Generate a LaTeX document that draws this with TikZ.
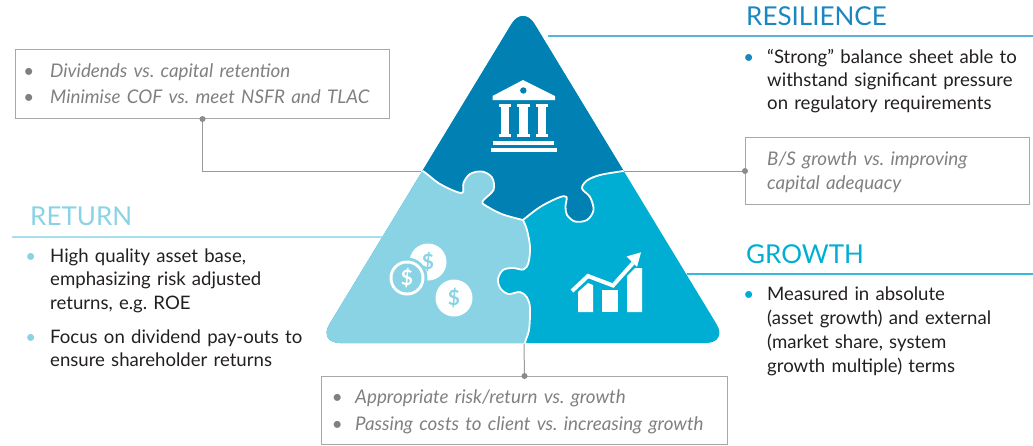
\documentclass[tikz,border=0pt]{standalone}
\usepackage{fontspec}
\setmainfont{Lato}
\frenchspacing
\definecolor{topc}{HTML}{0080B3}
\definecolor{leftc}{HTML}{89D3E5}
\definecolor{rightc}{HTML}{00AED4}
\definecolor{resc}{HTML}{1B87C0}
\definecolor{resline}{HTML}{5BB3DA}
\definecolor{retline}{HTML}{A9DEEC}
\definecolor{groline}{HTML}{36B9DD}
\definecolor{bodyc}{HTML}{231F20}
\definecolor{grayt}{HTML}{808080}
\definecolor{boxc}{HTML}{A8A8A8}
\definecolor{connc}{HTML}{9A9A9A}
\definecolor{dotc}{HTML}{8C8C8C}
\newcommand{\bul}[2]{\leavevmode\llap{\textcolor{#1}{•}\hspace{#2}}}
\begin{document}
\begin{tikzpicture}[x=1pt,y=-1pt,
  body/.style={anchor=base west, inner sep=0pt, text width=330pt, align=left, text=bodyc},
  note/.style={anchor=base west, inner sep=0pt, text width=420pt, align=left, text=grayt},
  titletext/.style={anchor=base west, inner sep=0pt, font=\fontsize{26}{30}\selectfont},
  greybox/.style={draw=boxc, line width=1pt, rectangle, inner sep=0pt, anchor=north west},
  conn/.style={draw=connc, line width=1pt},
  dotmark/.style={circle, fill=dotc, inner sep=0pt, minimum size=6pt},
  dollar/.style={inner sep=0pt, font=\bfseries\fontsize{21}{21}\selectfont},
]
\useasboundingbox (0,0) rectangle (1033,445);

% ---------- triangle puzzle ----------
\fill[rightc, rounded corners=22pt] (625.5,174) -- (728,343) -- (318,343) -- (523,5) -- cycle;
\begin{scope}
\clip[rounded corners=22pt] (625.5,174) -- (728,343) -- (318,343) -- (523,5) -- cycle;
\def\Lcurve{(400,163) (421,170) (440,184) (461.5,193) (463.5,183) (470,174) (482,171.5) (492,177.5) (493.5,190) (482.5,201.5) (488,207) (503,214.5) (523,220)}
\def\Rcurve{(523,220) (540,207) (559,197.5) (566.5,197) (565.5,206.5) (567,215) (575,221.5) (587,220) (593.5,210) (590,197) (582,188.5) (587,180.5) (600,175) (623,171) (640,168)}
\def\Vcurve{(523,220) (527,230) (530,247) (528.5,262.5) (523.5,269.5) (513,268) (503,270) (498,279) (500.5,288.5) (508.5,294) (520,292) (527,297.5) (530,308) (529,330) (525,343) (524,360)}
\fill[topc] plot[smooth, tension=0.55] coordinates {\Lcurve} -- plot[smooth, tension=0.55] coordinates {\Rcurve} -- (640,-20) -- (400,-20) -- cycle;
\fill[leftc] plot[smooth, tension=0.55] coordinates {\Lcurve} -- plot[smooth, tension=0.55] coordinates {\Vcurve} -- (300,360) -- (300,163) -- cycle;
\draw[white, line width=1.8pt] plot[smooth, tension=0.55] coordinates {\Lcurve};
\draw[white, line width=1.8pt] plot[smooth, tension=0.55] coordinates {\Rcurve};
\draw[white, line width=1.8pt] plot[smooth, tension=0.55] coordinates {\Vcurve};
\end{scope}

% ---------- bank icon ----------
\fill[white] (492.5,100) -- (492.5,96) -- (523,80) -- (555,96) -- (555,100) -- cycle;
\fill[topc] (523.3,90.5) circle (3.2pt);
\foreach \cx in {498.5,517.3,535.7}{
  \fill[white] (\cx,103.5) rectangle ++(12.7,3);
  \fill[white] (\cx+2,106) rectangle ++(8.7,28.5);
  \fill[white] (\cx,134) rectangle ++(12.7,3);
}
\fill[white] (493.3,140.7) rectangle (554,145);
\fill[white] (490.7,148.3) rectangle (556.7,152.3);

% ---------- coins icon ----------
\fill[white] (428,262) circle (18.5pt);
\node[dollar, text=leftc] (d1) at (428,262) {\$};
\fill[leftc] (407,278) circle (20.5pt);
\fill[white] (407,278) circle (17.5pt);
\fill[leftc] (407,278) circle (14.5pt);
\node[dollar, text=white] (d2) at (407,278) {\$};
\fill[white] (454,298) circle (18.5pt);
\node[dollar, text=leftc] (d3) at (454,298) {\$};

% ---------- chart icon ----------
\fill[white] (578,312) -- (578,292) -- (588,283) -- (593,285) -- (593,312) -- cycle;
\fill[white] (602,290) rectangle (618,312);
\fill[white] (627,312) -- (627,276) -- (635,268) -- (642,268) -- (642,312) -- cycle;
\draw[white, line width=4pt, line join=miter] (572,291) -- (588,276) -- (613,285.5) -- (633,263);
\fill[white] (626.5,256.5) -- (641,252.3) -- (637,267) -- cycle;

% ---------- RESILIENCE ----------
\node[titletext, text=resc] (restitle) at (746,25) {RESILIENCE};
\coordinate (resl0) at (548,36);
\coordinate (resl1) at (1033,36);
\draw[resline, line width=1.2pt] (resl0) -- (resl1);
\node[body, font=\fontsize{18.6}{23}\selectfont] (restext) at (767,63)
  {\bul{resc}{13pt}“Strong” balance sheet able to\\withstand significant pressure\\on regulatory requirements};

\node[greybox, minimum width=284pt, minimum height=67pt] (bsbox) at (745,137) {};
\node[note, font=\itshape\fontsize{18.8}{24}\selectfont] (bstext) at (767,165)
  {B/S growth vs. improving\\capital adequacy};
\coordinate (rj) at (624,171);
\draw[conn] (rj) -- (bsbox.west);
\node[dotmark] (bsdot) at (bsbox.west) {};

% ---------- top-left box ----------
\node[greybox, minimum width=374pt, minimum height=69pt] (tlbox) at (15,49) {};
\node[note, font=\itshape\fontsize{18.8}{26}\selectfont] (tltext) at (50,77)
  {\bul{grayt}{16pt}Dividends vs. capital retention\\\bul{grayt}{16pt}Minimise COF vs. meet NSFR and TLAC};
\coordinate (lj) at (421,171);
\draw[conn] (tlbox.south) |- (lj);
\node[dotmark] (tldot) at (tlbox.south) {};

% ---------- RETURN ----------
\node[titletext, text=leftc] (rettitle) at (30,225) {RETURN};
\coordinate (retl0) at (12,237);
\coordinate (retl1) at (382,237);
\draw[retline, line width=1.2pt] (retl0) -- (retl1);
\node[body, font=\fontsize{18.6}{23.5}\selectfont] (rettext) at (50,262)
  {\bul{leftc}{14pt}High quality asset base,\\emphasizing risk adjusted\\returns, e.g. ROE\\[10.5pt]\bul{leftc}{14pt}Focus on dividend pay-outs to\\ensure shareholder returns};

% ---------- GROWTH ----------
\node[titletext, text=rightc] (grotitle) at (746,263) {GROWTH};
\coordinate (grol0) at (687,274);
\coordinate (grol1) at (1033,274);
\draw[groline, line width=1.2pt] (grol0) -- (grol1);
\node[body, font=\fontsize{18.6}{24}\selectfont] (grotext) at (767,300)
  {\bul{rightc}{13pt}Measured in absolute\\(asset growth) and external\\(market share, system\\growth multiple) terms};

% ---------- bottom box ----------
\node[greybox, minimum width=406pt, minimum height=67.5pt] (btbox) at (321,376) {};
\node[note, font=\itshape\fontsize{18.8}{27}\selectfont] (bttext) at (355,403)
  {\bul{grayt}{12.5pt}Appropriate risk/return vs. growth\\\bul{grayt}{12.5pt}Passing costs to client vs. increasing growth};
\coordinate (bj) at (524,344);
\draw[conn] (bj) -- (btbox.north);
\node[dotmark] (btdot) at (btbox.north) {};
\end{tikzpicture}
\end{document}
